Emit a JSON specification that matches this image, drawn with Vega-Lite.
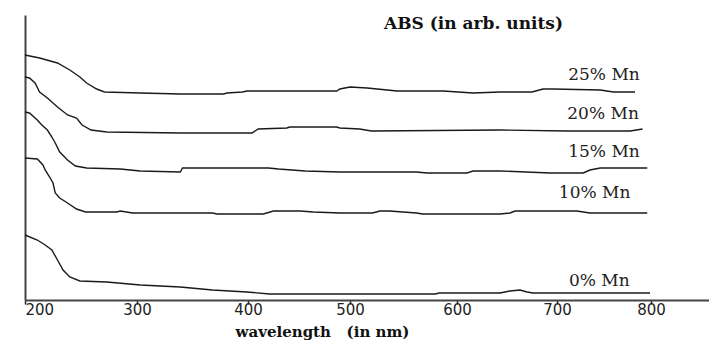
{
  "$schema": "https://vega.github.io/schema/vega-lite/v6.json",
  "width": 684,
  "height": 285,
  "autosize": {"type": "none"},
  "padding": {"left": 25, "top": 15, "right": 0, "bottom": 41},
  "background": "white",
  "config": {"view": {"stroke": null}},
  "datasets": {
    "curves": [
      {"series": "25% Mn", "wl": 200, "abs": 245}, {"series": "25% Mn", "wl": 213, "abs": 242}, {"series": "25% Mn", "wl": 229, "abs": 237}, {"series": "25% Mn", "wl": 240, "abs": 230}, {"series": "25% Mn", "wl": 249, "abs": 223}, {"series": "25% Mn", "wl": 255, "abs": 217}, {"series": "25% Mn", "wl": 264, "abs": 211}, {"series": "25% Mn", "wl": 271, "abs": 208}, {"series": "25% Mn", "wl": 303, "abs": 207}, {"series": "25% Mn", "wl": 339, "abs": 206}, {"series": "25% Mn", "wl": 378, "abs": 206}, {"series": "25% Mn", "wl": 381, "abs": 207}, {"series": "25% Mn", "wl": 395, "abs": 208}, {"series": "25% Mn", "wl": 399, "abs": 209}, {"series": "25% Mn", "wl": 487, "abs": 209}, {"series": "25% Mn", "wl": 490, "abs": 211}, {"series": "25% Mn", "wl": 500, "abs": 213}, {"series": "25% Mn", "wl": 516, "abs": 212}, {"series": "25% Mn", "wl": 544, "abs": 209}, {"series": "25% Mn", "wl": 587, "abs": 209}, {"series": "25% Mn", "wl": 616, "abs": 207}, {"series": "25% Mn", "wl": 643, "abs": 208}, {"series": "25% Mn", "wl": 675, "abs": 208}, {"series": "25% Mn", "wl": 686, "abs": 211}, {"series": "25% Mn", "wl": 696, "abs": 211}, {"series": "25% Mn", "wl": 746, "abs": 210}, {"series": "25% Mn", "wl": 760, "abs": 208}, {"series": "25% Mn", "wl": 783, "abs": 208},
      {"series": "20% Mn", "wl": 200, "abs": 223}, {"series": "20% Mn", "wl": 204, "abs": 222}, {"series": "20% Mn", "wl": 209, "abs": 217}, {"series": "20% Mn", "wl": 213, "abs": 208}, {"series": "20% Mn", "wl": 220, "abs": 202}, {"series": "20% Mn", "wl": 229, "abs": 193}, {"series": "20% Mn", "wl": 238, "abs": 185}, {"series": "20% Mn", "wl": 246, "abs": 182}, {"series": "20% Mn", "wl": 251, "abs": 175}, {"series": "20% Mn", "wl": 259, "abs": 170}, {"series": "20% Mn", "wl": 273, "abs": 168}, {"series": "20% Mn", "wl": 339, "abs": 167}, {"series": "20% Mn", "wl": 404, "abs": 167}, {"series": "20% Mn", "wl": 410, "abs": 171}, {"series": "20% Mn", "wl": 438, "abs": 172}, {"series": "20% Mn", "wl": 441, "abs": 173}, {"series": "20% Mn", "wl": 487, "abs": 173}, {"series": "20% Mn", "wl": 490, "abs": 172}, {"series": "20% Mn", "wl": 509, "abs": 171}, {"series": "20% Mn", "wl": 520, "abs": 169}, {"series": "20% Mn", "wl": 643, "abs": 170}, {"series": "20% Mn", "wl": 711, "abs": 169}, {"series": "20% Mn", "wl": 778, "abs": 169}, {"series": "20% Mn", "wl": 791, "abs": 171},
      {"series": "15% Mn", "wl": 200, "abs": 188}, {"series": "15% Mn", "wl": 204, "abs": 187}, {"series": "15% Mn", "wl": 211, "abs": 180}, {"series": "15% Mn", "wl": 215, "abs": 175}, {"series": "15% Mn", "wl": 220, "abs": 170}, {"series": "15% Mn", "wl": 224, "abs": 163}, {"series": "15% Mn", "wl": 227, "abs": 157}, {"series": "15% Mn", "wl": 231, "abs": 148}, {"series": "15% Mn", "wl": 238, "abs": 140}, {"series": "15% Mn", "wl": 245, "abs": 134}, {"series": "15% Mn", "wl": 255, "abs": 132}, {"series": "15% Mn", "wl": 285, "abs": 131}, {"series": "15% Mn", "wl": 303, "abs": 129}, {"series": "15% Mn", "wl": 339, "abs": 128}, {"series": "15% Mn", "wl": 341, "abs": 132}, {"series": "15% Mn", "wl": 354, "abs": 132}, {"series": "15% Mn", "wl": 420, "abs": 132}, {"series": "15% Mn", "wl": 430, "abs": 131}, {"series": "15% Mn", "wl": 456, "abs": 129}, {"series": "15% Mn", "wl": 490, "abs": 128}, {"series": "15% Mn", "wl": 562, "abs": 128}, {"series": "15% Mn", "wl": 572, "abs": 127}, {"series": "15% Mn", "wl": 610, "abs": 127}, {"series": "15% Mn", "wl": 616, "abs": 129}, {"series": "15% Mn", "wl": 643, "abs": 129}, {"series": "15% Mn", "wl": 693, "abs": 127}, {"series": "15% Mn", "wl": 728, "abs": 127}, {"series": "15% Mn", "wl": 735, "abs": 130}, {"series": "15% Mn", "wl": 746, "abs": 132}, {"series": "15% Mn", "wl": 796, "abs": 132},
      {"series": "10% Mn", "wl": 200, "abs": 142}, {"series": "10% Mn", "wl": 211, "abs": 141}, {"series": "10% Mn", "wl": 216, "abs": 135}, {"series": "10% Mn", "wl": 218, "abs": 130}, {"series": "10% Mn", "wl": 222, "abs": 123}, {"series": "10% Mn", "wl": 225, "abs": 117}, {"series": "10% Mn", "wl": 227, "abs": 107}, {"series": "10% Mn", "wl": 231, "abs": 102}, {"series": "10% Mn", "wl": 238, "abs": 97}, {"series": "10% Mn", "wl": 246, "abs": 91}, {"series": "10% Mn", "wl": 254, "abs": 88}, {"series": "10% Mn", "wl": 282, "abs": 88}, {"series": "10% Mn", "wl": 285, "abs": 89}, {"series": "10% Mn", "wl": 296, "abs": 87}, {"series": "10% Mn", "wl": 339, "abs": 87}, {"series": "10% Mn", "wl": 368, "abs": 87}, {"series": "10% Mn", "wl": 372, "abs": 86}, {"series": "10% Mn", "wl": 415, "abs": 86}, {"series": "10% Mn", "wl": 425, "abs": 89}, {"series": "10% Mn", "wl": 451, "abs": 89}, {"series": "10% Mn", "wl": 464, "abs": 88}, {"series": "10% Mn", "wl": 490, "abs": 87}, {"series": "10% Mn", "wl": 521, "abs": 87}, {"series": "10% Mn", "wl": 528, "abs": 89}, {"series": "10% Mn", "wl": 537, "abs": 89}, {"series": "10% Mn", "wl": 562, "abs": 87}, {"series": "10% Mn", "wl": 568, "abs": 86}, {"series": "10% Mn", "wl": 643, "abs": 86}, {"series": "10% Mn", "wl": 653, "abs": 87}, {"series": "10% Mn", "wl": 658, "abs": 89}, {"series": "10% Mn", "wl": 721, "abs": 89}, {"series": "10% Mn", "wl": 735, "abs": 87}, {"series": "10% Mn", "wl": 796, "abs": 87},
      {"series": "0% Mn", "wl": 200, "abs": 65}, {"series": "0% Mn", "wl": 211, "abs": 60}, {"series": "0% Mn", "wl": 218, "abs": 55}, {"series": "0% Mn", "wl": 224, "abs": 50}, {"series": "0% Mn", "wl": 229, "abs": 40}, {"series": "0% Mn", "wl": 234, "abs": 30}, {"series": "0% Mn", "wl": 240, "abs": 23}, {"series": "0% Mn", "wl": 249, "abs": 19}, {"series": "0% Mn", "wl": 273, "abs": 18}, {"series": "0% Mn", "wl": 303, "abs": 15}, {"series": "0% Mn", "wl": 339, "abs": 13}, {"series": "0% Mn", "wl": 368, "abs": 10}, {"series": "0% Mn", "wl": 399, "abs": 8}, {"series": "0% Mn", "wl": 421, "abs": 6}, {"series": "0% Mn", "wl": 580, "abs": 6}, {"series": "0% Mn", "wl": 583, "abs": 7}, {"series": "0% Mn", "wl": 643, "abs": 7}, {"series": "0% Mn", "wl": 653, "abs": 9}, {"series": "0% Mn", "wl": 663, "abs": 10}, {"series": "0% Mn", "wl": 670, "abs": 8}, {"series": "0% Mn", "wl": 676, "abs": 7}, {"series": "0% Mn", "wl": 799, "abs": 7}
    ],
    "labels": [
      {"label": "25% Mn", "wl": 750, "abs": 225},
      {"label": "20% Mn", "wl": 749, "abs": 186},
      {"label": "15% Mn", "wl": 750, "abs": 148},
      {"label": "10% Mn", "wl": 740, "abs": 107},
      {"label": "0% Mn", "wl": 745, "abs": 19}
    ]
  },
  "layer": [
    {
      "data": {"name": "curves"},
      "mark": {"type": "line", "color": "#1a1a1a", "strokeWidth": 1.4},
      "encoding": {
        "x": {
          "field": "wl", "type": "quantitative",
          "scale": {"domain": [200, 300, 400, 500, 600, 700, 800, 862], "range": [0, 112, 223, 325, 432, 532, 626, 684], "nice": false, "zero": false},
          "axis": {
            "title": "wavelength\u00a0\u00a0\u00a0(in nm)",
            "values": [200, 300, 400, 500, 600, 700, 800],
            "grid": false,
            "domainColor": "#444", "domainWidth": 2,
            "tickColor": "#222", "tickSize": 4, "tickWidth": 1.5,
            "labelFont": "DejaVu Sans", "labelFontSize": 15, "labelColor": "#222", "labelPadding": -2,
            "titleFont": "DejaVu Serif", "titleFontWeight": "bold", "titleFontSize": 15, "titleColor": "#111",
            "titleX": 297, "titleY": 31, "titleBaseline": "middle", "titleAlign": "center"
          }
        },
        "y": {
          "field": "abs", "type": "quantitative",
          "scale": {"domain": [0, 285], "nice": false, "zero": false},
          "axis": {
            "title": "ABS (in arb. units)",
            "ticks": false, "labels": false, "grid": false,
            "domainColor": "#444", "domainWidth": 2,
            "titleAngle": 0, "titleAlign": "center", "titleBaseline": "middle",
            "titleX": 448, "titleY": 8,
            "titleFont": "DejaVu Serif", "titleFontWeight": "bold", "titleFontSize": 17, "titleColor": "#111"
          }
        },
        "detail": {"field": "series", "type": "nominal"}
      }
    },
    {
      "data": {"name": "labels"},
      "mark": {"type": "text", "align": "center", "baseline": "middle", "font": "DejaVu Serif", "fontSize": 17, "color": "#222"},
      "encoding": {
        "x": {"field": "wl", "type": "quantitative"},
        "y": {"field": "abs", "type": "quantitative"},
        "text": {"field": "label", "type": "nominal"}
      }
    }
  ]
}
